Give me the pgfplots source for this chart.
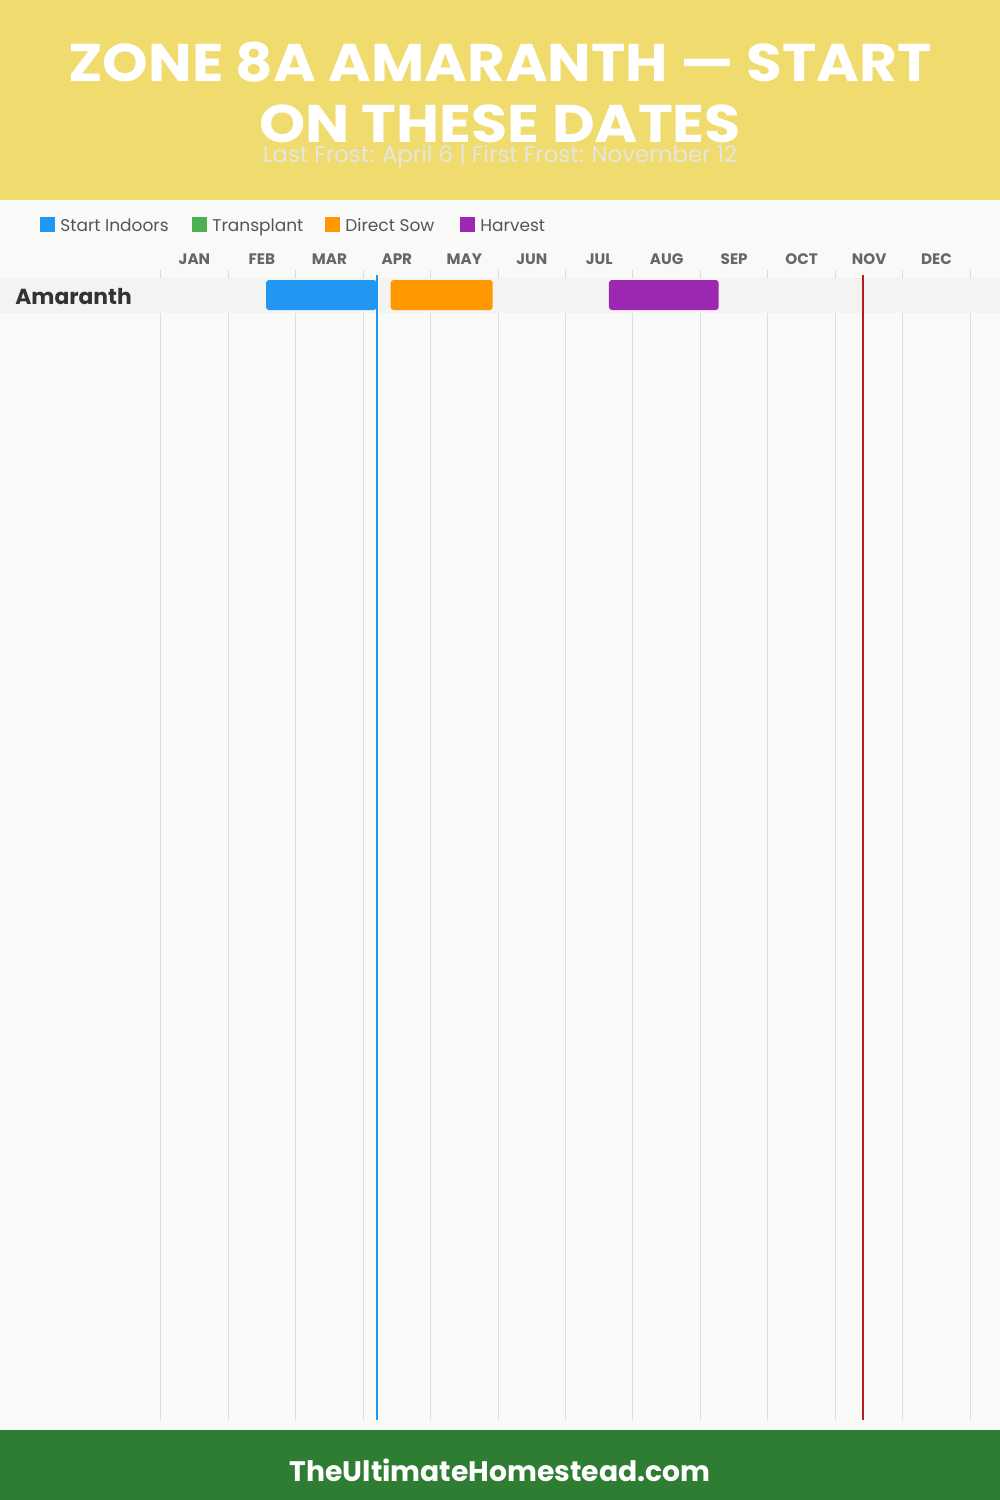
\documentclass[border=0pt]{standalone}
\usepackage{pgfplots}
\pgfplotsset{compat=1.18}
\usepackage{fontspec}
\setmainfont{Poppins}
\definecolor{hdr}{HTML}{F0DB6E}
\definecolor{ftr}{HTML}{2E7D32}
\definecolor{bgc}{HTML}{F9F9F8}
\definecolor{bandc}{HTML}{F3F3F1}
\definecolor{gridc}{HTML}{DDDDDD}
\definecolor{sind}{HTML}{2196F3}
\definecolor{trans}{HTML}{4CAF50}
\definecolor{dsow}{HTML}{FF9800}
\definecolor{harv}{HTML}{9C27B0}
\definecolor{frostred}{HTML}{B71C1C}
\definecolor{subc}{HTML}{E6E6E0}
\definecolor{monc}{HTML}{666666}
\definecolor{legc}{HTML}{555555}
\definecolor{namec}{HTML}{333333}
\begin{document}
\begin{tikzpicture}[x=0.5pt,y=-0.5pt]
\fill[bgc] (0,0) rectangle (1000,1500);
\fill[hdr] (0,0) rectangle (1000,200);
\fill[ftr] (0,1430) rectangle (1000,1500);
\begin{axis}[at={(0,0)}, anchor=north west, scale only axis,
  width=500pt, height=750pt,
  xmin=-2.3818, xmax=12.4396, ymin=0, ymax=1500, y dir=reverse,
  hide axis, clip=false]
\pgfplotsinvokeforeach{0,...,12}{
  \addplot[gridc, line width=0.5pt, mark=none] coordinates {(#1,270) (#1,1420)};
}
\fill[bandc] (axis cs:-2.3818,277.7) rectangle (axis cs:12.4396,312.7);
% Start Indoors
\addplot[fill=sind, draw=none, mark=none, rounded corners=1.5pt] coordinates {(1.561,280) (3.201,280) (3.201,310) (1.561,310)} -- cycle;
% Direct Sow
\addplot[fill=dsow, draw=none, mark=none, rounded corners=1.5pt] coordinates {(3.409,280) (4.921,280) (4.921,310) (3.409,310)} -- cycle;
% Harvest
\addplot[fill=harv, draw=none, mark=none, rounded corners=1.5pt] coordinates {(6.644,280) (8.270,280) (8.270,310) (6.644,310)} -- cycle;
% frost lines
\addplot[sind, line width=1pt, mark=none] coordinates {(3.2,275) (3.2,1420)};
\addplot[frostred, line width=1pt, mark=none] coordinates {(10.405,275) (10.405,1420)};
\end{axis}
% month labels
\foreach \m [count=\i from 0] in {JAN,FEB,MAR,APR,MAY,JUN,JUL,AUG,SEP,OCT,NOV,DEC}{
  \node[anchor=base, text=monc, font=\fontsize{7.6pt}{9pt}\selectfont\bfseries, inner sep=0pt] at ({160.7+(\i+0.5)*67.47},264) {\m};
}
% title
\node[anchor=base, text=white, inner sep=0pt, xscale=1.095, font=\fontsize{26.5pt}{30pt}\selectfont\bfseries] at (500,81) {ZONE 8A AMARANTH — START};
\node[anchor=base, text=white, inner sep=0pt, xscale=1.11, font=\fontsize{26.5pt}{30pt}\selectfont\bfseries] at (500,142) {ON THESE DATES};
\node[anchor=base, text=subc, inner sep=0pt, font=\fontsize{11.4pt}{12pt}\selectfont] at (500,162) {Last Frost: April 6 | First Frost: November 12};
% legend
\fill[sind] (40,217) rectangle (55,232);
\node[anchor=base west, text=legc, inner sep=0pt, font=\fontsize{8.5pt}{10pt}\selectfont] at (60,231) {Start Indoors};
\fill[trans] (192,217) rectangle (207,232);
\node[anchor=base west, text=legc, inner sep=0pt, font=\fontsize{8.5pt}{10pt}\selectfont] at (212,231) {Transplant};
\fill[dsow] (325,217) rectangle (340,232);
\node[anchor=base west, text=legc, inner sep=0pt, font=\fontsize{8.5pt}{10pt}\selectfont] at (345,231) {Direct Sow};
\fill[harv] (460,217) rectangle (475,232);
\node[anchor=base west, text=legc, inner sep=0pt, font=\fontsize{8.5pt}{10pt}\selectfont] at (480,231) {Harvest};
% row name
\node[anchor=base west, text=namec, inner sep=0pt, font=\fontsize{10.9pt}{13pt}\selectfont\bfseries] at (15,304.3) {Amaranth};
% footer
\node[anchor=base, text=white, inner sep=0pt, font=\fontsize{14.1pt}{16pt}\selectfont\bfseries] at (500,1481) {TheUltimateHomestead.com};
\end{tikzpicture}
\end{document}
